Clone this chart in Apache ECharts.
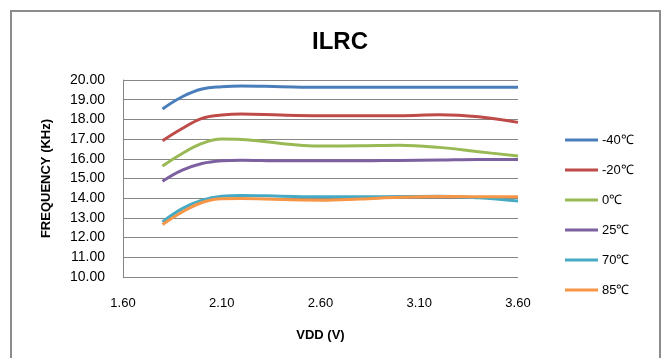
<!DOCTYPE html>
<html>
<head>
<meta charset="utf-8">
<script src="https://cdn.jsdelivr.net/npm/echarts@6/dist/echarts.min.js"></script>
<style>
  html, body { margin: 0; padding: 0; background: #fff; }
  #main { width: 664px; height: 358px; }
</style>
</head>
<body>
<div id="main"></div>
<script>
// VDD sample points (V)
var vdd = [1.8, 1.9, 2.0, 2.1, 2.2, 2.4, 2.6, 2.8, 3.0, 3.2, 3.4, 3.6];

// frequency (KHz) per temperature
var fm40 = [18.53, 19.15, 19.54, 19.66, 19.70, 19.66, 19.63, 19.63, 19.63, 19.63, 19.63, 19.63];
var fm20 = [16.92, 17.54, 18.05, 18.22, 18.28, 18.22, 18.19, 18.19, 18.19, 18.24, 18.14, 17.85];
var f0   = [15.63, 16.27, 16.78, 17.00, 16.98, 16.78, 16.65, 16.66, 16.69, 16.58, 16.36, 16.14];
var f25  = [14.86, 15.42, 15.76, 15.90, 15.93, 15.90, 15.90, 15.90, 15.92, 15.94, 15.97, 15.97];
var f70  = [12.80, 13.47, 13.90, 14.10, 14.14, 14.10, 14.07, 14.07, 14.08, 14.10, 14.02, 13.86];
var f85  = [12.66, 13.30, 13.78, 13.97, 13.98, 13.93, 13.90, 13.96, 14.05, 14.09, 14.07, 14.07];

var names = ['-40℃', '-20℃', '0℃', '25℃', '70℃', '85℃'];
var colors = ['#4A7EBB', '#BE4B48', '#98B954', '#7D60A0', '#46AAC5', '#F79646'];
var values = [fm40, fm20, f0, f25, f70, f85];

var FONT = '"Liberation Sans", Arial, sans-serif';

function pairs(ys) {
  var out = [];
  for (var i = 0; i < vdd.length; i++) {
    out.push([vdd[i], ys[i]]);
  }
  return out;
}

var series = [];
for (var i = 0; i < names.length; i++) {
  series.push({
    name: names[i],
    type: 'line',
    smooth: 0.4,
    showSymbol: false,
    lineStyle: { width: 3, color: colors[i] },
    itemStyle: { color: colors[i] },
    data: pairs(values[i])
  });
}

var chart = echarts.init(document.getElementById('main'));
chart.setOption({
  animation: false,
  backgroundColor: '#fff',
  title: {
    text: 'ILRC',
    left: 335,
    top: 25,
    textAlign: 'center',
    textStyle: { fontFamily: FONT, fontSize: 24, fontWeight: 'bold', color: '#000' }
  },
  graphic: [{
    type: 'polyline',
    silent: true,
    shape: { points: [[11, 358], [11, 11], [660, 11], [660, 358]] },
    style: { stroke: '#8c8c8c', lineWidth: 2, fill: null }
  }],
  legend: {
    orient: 'vertical',
    left: 560,
    top: 128,
    itemWidth: 33,
    itemHeight: 3,
    itemGap: 16,
    icon: 'rect',
    data: names,
    textStyle: { fontFamily: FONT, fontSize: 13, color: '#000', lineHeight: 14, padding: [0, 0, 0, -1] }
  },
  grid: { left: 123, right: 146, top: 80, bottom: 81 },
  xAxis: {
    type: 'value',
    min: 1.6,
    max: 3.6,
    interval: 0.5,
    name: 'VDD (V)',
    nameLocation: 'middle',
    nameGap: 52,
    nameTextStyle: { fontFamily: FONT, fontSize: 13, fontWeight: 'bold', color: '#000' },
    axisLine: { show: false },
    axisTick: { show: false },
    splitLine: { show: false },
    axisLabel: {
      margin: 20,
      fontFamily: FONT, fontSize: 13, color: '#000',
      formatter: function (v) { return v.toFixed(2); }
    }
  },
  yAxis: {
    type: 'value',
    min: 10,
    max: 20,
    interval: 1,
    name: 'FREQUENCY (KHz)',
    nameLocation: 'middle',
    nameGap: 70,
    nameTextStyle: { fontFamily: FONT, fontSize: 13, fontWeight: 'bold', color: '#000' },
    axisLine: { show: true, lineStyle: { color: '#868686', width: 1 } },
    axisTick: { show: false },
    splitLine: { show: true, lineStyle: { color: '#868686', width: 1 } },
    axisLabel: {
      margin: 18,
      fontFamily: FONT, fontSize: 14, color: '#000',
      formatter: function (v) { return v.toFixed(2); }
    }
  },
  series: series
});
</script>
</body>
</html>
